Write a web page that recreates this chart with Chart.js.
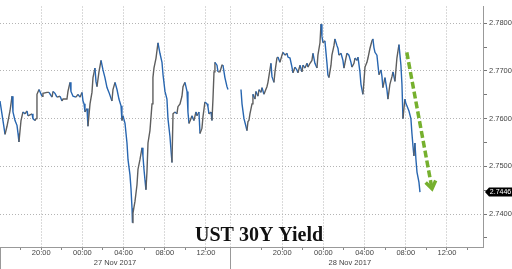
<!DOCTYPE html>
<html>
<head>
<meta charset="utf-8">
<script src="https://cdn.jsdelivr.net/npm/chart.js@4.4.0/dist/chart.umd.min.js"></script>
<style>
  html, body { margin: 0; padding: 0; background: #fff; }
  #wrap { width: 512px; height: 269px; }
</style>
</head>
<body>
<div id="wrap"><canvas id="yield-chart"></canvas></div>
<script>
// hours along the session axis (0 = 16:00, 26 Nov; the overnight break is squeezed out)
const day1Hours = [0.00,0.19,0.49,0.68,0.97,1.17,1.26,1.46,1.65,1.75,1.84,2.04,2.23,2.43,2.62,2.72,3.11,3.20,3.40,3.50,3.59,3.79,4.08,4.17,4.56,4.76,5.05,5.15,5.34,5.53,5.83,6.02,6.12,6.50,6.60,6.80,6.89,7.09,7.38,7.57,7.77,7.96,8.06,8.16,8.25,8.45,8.54,8.74,8.93,9.03,9.22,9.32,9.42,9.61,9.81,10.00,10.19,10.39,10.58,10.87,10.97,11.17,11.36,11.55,11.75,11.84,11.94,12.14,12.33,12.43,12.62,12.72,12.82,12.86,12.91,13.11,13.30,13.40,13.59,13.79,13.88,13.98,14.08,14.17,14.27,14.37,14.56,14.76,14.85,14.95,15.15,15.34,15.53,15.73,15.83,16.02,16.21,16.31,16.50,16.70,16.80,16.99,17.18,17.28,17.48,17.67,17.77,17.96,18.16,18.25,18.35,18.54,18.64,18.83,19.03,19.13,19.32,19.42,19.61,19.71,19.90,20.10,20.19,20.29,20.49,20.58,20.68,20.78,20.87,21.07,21.17,21.36,21.55,21.65,21.84,22.04,22.14];
const day1Yield = [2.7637,2.7610,2.7567,2.7584,2.7616,2.7647,2.7614,2.7596,2.7586,2.7569,2.7551,2.7596,2.7614,2.7610,2.7616,2.7606,2.7610,2.7600,2.7596,2.7600,2.7651,2.7661,2.7647,2.7653,2.7655,2.7655,2.7645,2.7657,2.7653,2.7645,2.7647,2.7637,2.7641,2.7641,2.7657,2.7676,2.7657,2.7647,2.7645,2.7651,2.7645,2.7655,2.7637,2.7631,2.7614,2.7621,2.7584,2.7631,2.7655,2.7686,2.7706,2.7678,2.7667,2.7698,2.7722,2.7702,2.7686,2.7665,2.7655,2.7637,2.7661,2.7676,2.7661,2.7641,2.7627,2.7596,2.7606,2.7590,2.7549,2.7514,2.7482,2.7453,2.7412,2.7382,2.7402,2.7427,2.7461,2.7494,2.7514,2.7539,2.7522,2.7494,2.7471,2.7451,2.7488,2.7549,2.7575,2.7631,2.7686,2.7706,2.7727,2.7759,2.7737,2.7718,2.7692,2.7657,2.7641,2.7600,2.7563,2.7508,2.7610,2.7614,2.7610,2.7625,2.7631,2.7647,2.7667,2.7676,2.7657,2.7614,2.7590,2.7600,2.7606,2.7596,2.7614,2.7606,2.7614,2.7569,2.7580,2.7604,2.7635,2.7631,2.7625,2.7610,2.7614,2.7596,2.7641,2.7698,2.7718,2.7712,2.7698,2.7698,2.7712,2.7712,2.7686,2.7667,2.7661];
const day2Hours = [23.40,23.50,23.69,23.88,23.98,24.08,24.17,24.27,24.47,24.56,24.76,24.85,25.05,25.15,25.34,25.44,25.63,25.92,26.02,26.21,26.31,26.41,26.60,26.70,26.89,26.99,27.18,27.38,27.48,27.67,27.86,27.96,28.16,28.35,28.45,28.64,28.83,28.93,29.13,29.32,29.42,29.61,29.81,29.90,30.10,30.29,30.39,30.58,30.78,30.87,31.07,31.17,31.26,31.36,31.55,31.65,31.75,31.84,31.94,32.14,32.23,32.43,32.52,32.72,32.82,32.91,33.11,33.30,33.40,33.59,33.69,33.88,34.08,34.17,34.37,34.47,34.66,34.76,34.95,35.05,35.24,35.34,35.44,35.63,35.73,35.92,36.12,36.21,36.31,36.41,36.60,36.70,36.80,36.99,37.09,37.18,37.38,37.57,37.67,37.86,38.06,38.16,38.35,38.54,38.74,38.93,39.03,39.13,39.22,39.32,39.42,39.51,39.71,39.90,40.00,40.10,40.19,40.29,40.39,40.49,40.68,40.78];
const day2Yield = [2.7661,2.7631,2.7600,2.7584,2.7575,2.7594,2.7596,2.7610,2.7631,2.7651,2.7641,2.7657,2.7647,2.7661,2.7655,2.7665,2.7651,2.7667,2.7676,2.7702,2.7716,2.7688,2.7676,2.7698,2.7727,2.7729,2.7718,2.7733,2.7739,2.7733,2.7737,2.7729,2.7727,2.7708,2.7696,2.7708,2.7702,2.7696,2.7712,2.7698,2.7712,2.7706,2.7716,2.7708,2.7716,2.7722,2.7737,2.7716,2.7706,2.7733,2.7759,2.7798,2.7773,2.7759,2.7763,2.7739,2.7716,2.7692,2.7686,2.7712,2.7733,2.7753,2.7767,2.7753,2.7747,2.7733,2.7737,2.7722,2.7706,2.7727,2.7737,2.7733,2.7718,2.7708,2.7716,2.7727,2.7722,2.7729,2.7698,2.7672,2.7651,2.7678,2.7708,2.7718,2.7727,2.7747,2.7763,2.7767,2.7749,2.7739,2.7733,2.7712,2.7692,2.7702,2.7688,2.7665,2.7686,2.7661,2.7641,2.7672,2.7688,2.7698,2.7678,2.7727,2.7755,2.7712,2.7672,2.7600,2.7621,2.7641,2.7631,2.7627,2.7616,2.7600,2.7569,2.7543,2.7522,2.7549,2.7514,2.7488,2.7467,2.7446];

const majorTickHours = [4, 8, 12, 16, 20, 27.4, 31.4, 35.4, 39.4, 43.4];
const majorTickLabels = ['20:00', '00:00', '04:00', '08:00', '12:00', '20:00', '00:00', '04:00', '08:00', '12:00'];
const minorTickHours = [2, 6, 10, 14, 18, 25.4, 29.4, 33.4, 37.4, 41.4, 45.4];
const dayBreaks = [0, 22.33, 45.6];
const dayLabels = ['27 Nov 2017', '28 Nov 2017'];
const yTicks = [2.74, 2.75, 2.76, 2.77, 2.78];
const yMinorTicks = [2.735, 2.745, 2.755, 2.765, 2.775];
const lastYield = 2.7446;
const arrowFrom = [39.5, 2.7739];
const arrowTo = [41.95, 2.7453];
const chartTitle = 'UST 30Y Yield';

const upColor = '#5e5e5e';
const downColor = '#2866b0';
const gridColor = '#b4b4b4';
const labelFont = { family: 'Liberation Sans', size: 7.5 };

const xTicks = majorTickHours.concat(minorTickHours).sort((a, b) => a - b);
const yAllTicks = yTicks.concat(yMinorTicks).sort((a, b) => a - b);

function series(label, hours, values) {
    return {
        label: label,
        data: hours.map((h, i) => ({ x: h, y: values[i] })),
        borderColor: downColor,
        borderWidth: 1.4,
        pointRadius: 0,
        tension: 0,
        segment: {
            borderColor: ctx => ctx.p1.parsed.y >= ctx.p0.parsed.y ? upColor : downColor
        }
    };
}

const overlay = {
    id: 'overlay',
    afterDatasetsDraw(chart) {
        const { ctx, chartArea: area, scales: { x, y } } = chart;
        ctx.save();

        // session break + day stubs under the axis
        ctx.lineWidth = 1;
        dayBreaks.slice(0, 2).forEach((h, i) => {
            const px = Math.round(x.getPixelForValue(h)) + 0.5;
            if (i > 0) {
                ctx.setLineDash([1, 2]);
                ctx.strokeStyle = gridColor;
                ctx.beginPath();
                ctx.moveTo(px, area.top);
                ctx.lineTo(px, area.bottom);
                ctx.stroke();
            }
            ctx.setLineDash([]);
            ctx.strokeStyle = '#999';
            ctx.beginPath();
            ctx.moveTo(px, area.bottom);
            ctx.lineTo(px, chart.height);
            ctx.stroke();
        });

        // date labels under each session
        ctx.fillStyle = '#444';
        ctx.font = '7.5px "Liberation Sans"';
        ctx.textAlign = 'center';
        ctx.textBaseline = 'middle';
        dayLabels.forEach((t, i) => {
            const cx = (x.getPixelForValue(dayBreaks[i]) + x.getPixelForValue(dayBreaks[i + 1])) / 2;
            ctx.fillText(t, cx, 262.5);
        });

        // green dashed arrow
        const x0 = x.getPixelForValue(arrowFrom[0]), y0 = y.getPixelForValue(arrowFrom[1]);
        const x1 = x.getPixelForValue(arrowTo[0]), y1 = y.getPixelForValue(arrowTo[1]);
        const ang = Math.atan2(y1 - y0, x1 - x0);
        ctx.strokeStyle = '#76b02e';
        ctx.lineWidth = 3.5;
        ctx.setLineDash([7, 3]);
        ctx.beginPath();
        ctx.moveTo(x0, y0);
        ctx.lineTo(x1 - 3 * Math.cos(ang), y1 - 3 * Math.sin(ang));
        ctx.stroke();
        ctx.setLineDash([]);
        ctx.beginPath();
        ctx.moveTo(x1 - 9 * Math.cos(ang - 0.6), y1 - 9 * Math.sin(ang - 0.6));
        ctx.lineTo(x1, y1);
        ctx.lineTo(x1 - 9 * Math.cos(ang + 0.6), y1 - 9 * Math.sin(ang + 0.6));
        ctx.stroke();

        // title
        ctx.fillStyle = '#111';
        ctx.font = 'bold 20px "Liberation Serif"';
        ctx.textAlign = 'left';
        ctx.textBaseline = 'alphabetic';
        ctx.fillText(chartTitle, 195, 241);

        // last value tag
        const ly = Math.round(y.getPixelForValue(lastYield));
        const lx = area.right + 2;
        ctx.fillStyle = '#000';
        ctx.beginPath();
        ctx.moveTo(lx, ly);
        ctx.lineTo(lx + 4, ly - 4.5);
        ctx.lineTo(chart.width, ly - 4.5);
        ctx.lineTo(chart.width, ly + 4.5);
        ctx.lineTo(lx + 4, ly + 4.5);
        ctx.closePath();
        ctx.fill();
        ctx.fillStyle = '#fff';
        ctx.font = '7px "Liberation Sans"';
        ctx.textAlign = 'center';
        ctx.textBaseline = 'middle';
        ctx.fillText(lastYield.toFixed(4), (lx + 4 + chart.width) / 2, ly + 0.5);

        ctx.restore();
    }
};

new Chart(document.getElementById('yield-chart'), {
    type: 'line',
    data: {
        datasets: [
            series('27 Nov', day1Hours, day1Yield),
            series('28 Nov', day2Hours, day2Yield)
        ]
    },
    options: {
        responsive: true,
        maintainAspectRatio: false,
        animation: false,
        layout: { padding: 0 },
        plugins: {
            legend: { display: false },
            tooltip: { enabled: false }
        },
        scales: {
            x: {
                type: 'linear',
                min: 0,
                max: 46.9,
                afterBuildTicks: s => { s.ticks = xTicks.map(v => ({ value: v })); },
                afterFit: s => { s.height = 22; },
                ticks: {
                    autoSkip: false,
                    maxRotation: 0,
                    padding: -2,
                    color: '#444',
                    font: labelFont,
                    callback: v => {
                        const i = majorTickHours.indexOf(v);
                        return i < 0 ? '' : majorTickLabels[i];
                    }
                },
                grid: {
                    color: c => majorTickHours.includes(c.tick && c.tick.value) ? gridColor : 'rgba(0,0,0,0)',
                    tickColor: '#888',
                    tickLength: 3
                },
                border: { color: '#999', dash: [1, 2] }
            },
            y: {
                type: 'linear',
                position: 'right',
                min: 2.7331,
                max: 2.7835,
                afterBuildTicks: s => { s.ticks = yAllTicks.map(v => ({ value: v })); },
                afterFit: s => { s.width = 29; },
                ticks: {
                    padding: 2,
                    color: '#444',
                    font: labelFont,
                    callback: v => yTicks.includes(v) ? v.toFixed(4) : ''
                },
                grid: {
                    color: c => yTicks.includes(c.tick && c.tick.value) ? gridColor : 'rgba(0,0,0,0)',
                    tickColor: '#777',
                    tickLength: 4
                },
                border: { color: '#999', dash: [1, 2] }
            }
        }
    },
    plugins: [overlay]
});
</script>
</body>
</html>
